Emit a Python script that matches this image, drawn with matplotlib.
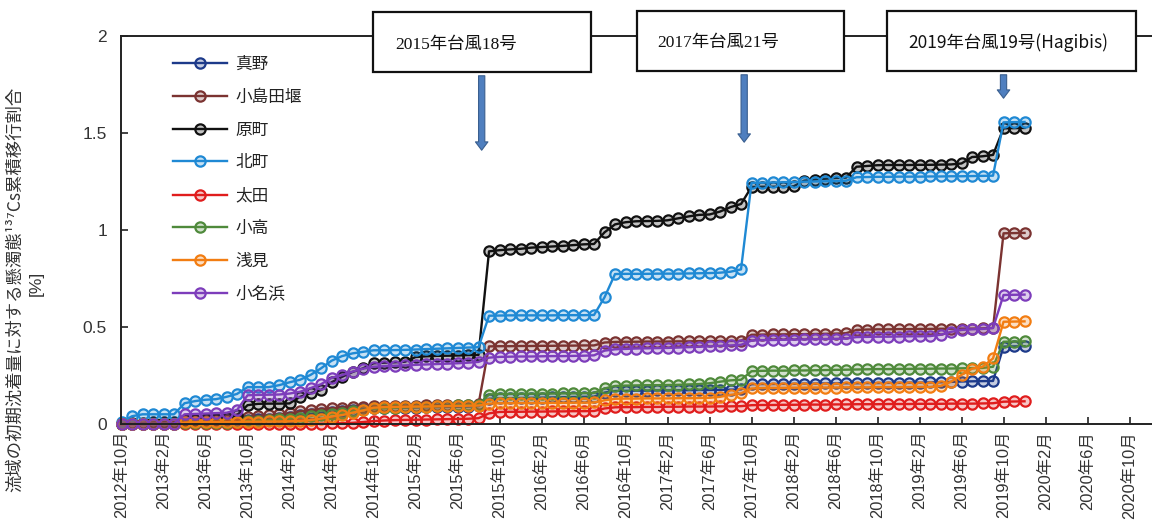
import numpy as np
import pandas as pd
import matplotlib
matplotlib.use("Agg")
import matplotlib.pyplot as plt
from matplotlib.patches import Rectangle, FancyArrowPatch
from matplotlib import transforms
from matplotlib.colors import to_rgba

plt.rcParams['font.family'] = ['Liberation Sans', 'Noto Sans CJK JP', 'DejaVu Sans']

# Monthly observations, Oct 2012 - Dec 2019
months = pd.period_range('2012-10', '2019-12', freq='M')

tick_labels = ['2012年10月', '2013年2月', '2013年6月', '2013年10月', '2014年2月', '2014年6月',
               '2014年10月', '2015年2月', '2015年6月', '2015年10月', '2016年2月', '2016年6月',
               '2016年10月', '2017年2月', '2017年6月', '2017年10月', '2018年2月', '2018年6月',
               '2018年10月', '2019年2月', '2019年6月', '2019年10月', '2020年2月', '2020年6月',
               '2020年10月']

# Cumulative transfer ratio of particulate 137Cs [%]
mano = [0.0, 0.0, 0.0, 0.0, 0.0, 0.0, 0.005, 0.006, 0.008, 0.01, 0.012, 0.015,
        0.02, 0.024, 0.028, 0.033, 0.038, 0.045, 0.052, 0.058, 0.063, 0.068, 0.072, 0.076,
        0.08, 0.082, 0.083, 0.084, 0.085, 0.086, 0.087, 0.088, 0.089, 0.09, 0.092, 0.13,
        0.132, 0.133, 0.134, 0.135, 0.136, 0.137, 0.138, 0.139, 0.14, 0.141, 0.162, 0.17,
        0.171, 0.172, 0.172, 0.173, 0.173, 0.174, 0.174, 0.175, 0.175, 0.176, 0.177, 0.178,
        0.205, 0.206, 0.206, 0.207, 0.207, 0.208, 0.208, 0.209, 0.209, 0.21, 0.21, 0.211,
        0.211, 0.212, 0.212, 0.213, 0.213, 0.214, 0.215, 0.217, 0.219, 0.22, 0.221, 0.222,
        0.399, 0.4, 0.401]

kojimadazeki = [0.0, 0.0, 0.0, 0.002, 0.003, 0.005, 0.01, 0.013, 0.016, 0.02, 0.022, 0.026,
                0.035, 0.04, 0.045, 0.05, 0.055, 0.065, 0.072, 0.078, 0.081, 0.085, 0.088, 0.09,
                0.091, 0.092, 0.093, 0.094, 0.095, 0.096, 0.097, 0.098, 0.099, 0.1, 0.102, 0.4,
                0.401, 0.401, 0.402, 0.402, 0.403, 0.403, 0.404, 0.404, 0.405, 0.405, 0.42, 0.423,
                0.424, 0.424, 0.425, 0.425, 0.425, 0.426, 0.426, 0.427, 0.427, 0.428, 0.428, 0.429,
                0.46, 0.461, 0.462, 0.462, 0.463, 0.463, 0.464, 0.465, 0.466, 0.468, 0.485, 0.487,
                0.488, 0.488, 0.489, 0.489, 0.49, 0.49, 0.491, 0.491, 0.492, 0.492, 0.493, 0.495,
                0.983, 0.984, 0.985]

haramachi = [0.0, 0.005, 0.005, 0.008, 0.01, 0.01, 0.02, 0.022, 0.025, 0.028, 0.03, 0.045,
             0.097, 0.104, 0.105, 0.105, 0.106, 0.14, 0.158, 0.175, 0.215, 0.243, 0.268, 0.287,
             0.313, 0.316, 0.318, 0.321, 0.345, 0.349, 0.351, 0.352, 0.353, 0.355, 0.356, 0.89,
             0.896, 0.9, 0.903, 0.909, 0.912, 0.915, 0.918, 0.922, 0.926, 0.928, 0.988, 1.029,
             1.04, 1.045, 1.046, 1.047, 1.05, 1.06, 1.07, 1.078, 1.08, 1.095, 1.118, 1.134,
             1.222, 1.223, 1.223, 1.224, 1.225, 1.254, 1.26, 1.264, 1.268, 1.27, 1.326, 1.33,
             1.334, 1.335, 1.335, 1.335, 1.336, 1.336, 1.337, 1.338, 1.343, 1.376, 1.38, 1.387,
             1.524, 1.525, 1.526]

kitamachi = [0.01, 0.04, 0.05, 0.05, 0.05, 0.05, 0.107, 0.118, 0.125, 0.128, 0.14, 0.155,
             0.19, 0.19, 0.19, 0.2, 0.215, 0.228, 0.253, 0.287, 0.326, 0.35, 0.364, 0.372,
             0.38, 0.38, 0.381, 0.382, 0.384, 0.386, 0.388, 0.39, 0.392, 0.394, 0.396, 0.558,
             0.559, 0.56, 0.56, 0.56, 0.56, 0.56, 0.561, 0.561, 0.561, 0.562, 0.653, 0.773,
             0.774, 0.774, 0.774, 0.775, 0.775, 0.775, 0.776, 0.777, 0.778, 0.78, 0.785, 0.797,
             1.243, 1.244, 1.245, 1.246, 1.247, 1.249, 1.25, 1.251, 1.252, 1.254, 1.272, 1.273,
             1.274, 1.274, 1.275, 1.275, 1.275, 1.276, 1.276, 1.277, 1.277, 1.278, 1.279, 1.28,
             1.555, 1.556, 1.557]

ota = [0.0, 0.0, 0.0, 0.0, 0.0, 0.0, 0.0, 0.0, 0.0, 0.0, 0.0, 0.0,
       0.0, 0.0, 0.0, 0.0, 0.0, 0.0, 0.001, 0.002, 0.003, 0.004, 0.006, 0.01,
       0.015, 0.018, 0.02, 0.021, 0.022, 0.023, 0.024, 0.025, 0.026, 0.027, 0.03, 0.055,
       0.062, 0.063, 0.063, 0.064, 0.064, 0.065, 0.065, 0.066, 0.066, 0.067, 0.08, 0.086,
       0.087, 0.087, 0.088, 0.088, 0.089, 0.089, 0.09, 0.09, 0.09, 0.091, 0.091, 0.092,
       0.097, 0.098, 0.098, 0.099, 0.099, 0.1, 0.1, 0.1, 0.101, 0.101, 0.102, 0.102,
       0.102, 0.103, 0.103, 0.103, 0.104, 0.104, 0.104, 0.105, 0.105, 0.105, 0.106, 0.107,
       0.115, 0.116, 0.117]

odaka = [0.0, 0.0, 0.0, 0.0, 0.0, 0.0, 0.003, 0.004, 0.005, 0.006, 0.007, 0.01,
         0.015, 0.018, 0.02, 0.024, 0.028, 0.033, 0.04, 0.045, 0.05, 0.058, 0.065, 0.072,
         0.08, 0.082, 0.084, 0.086, 0.088, 0.09, 0.092, 0.094, 0.096, 0.098, 0.1, 0.152,
         0.155, 0.155, 0.156, 0.156, 0.157, 0.157, 0.158, 0.158, 0.159, 0.16, 0.183, 0.196,
         0.198, 0.199, 0.2, 0.2, 0.201, 0.202, 0.204, 0.206, 0.21, 0.218, 0.225, 0.228,
         0.272, 0.274, 0.275, 0.275, 0.276, 0.276, 0.277, 0.278, 0.279, 0.28, 0.281, 0.282,
         0.283, 0.283, 0.284, 0.284, 0.285, 0.285, 0.286, 0.286, 0.287, 0.288, 0.289, 0.295,
         0.424, 0.425, 0.426]

asami = [0.0, 0.0, 0.0, 0.0, 0.0, 0.0, 0.008, 0.009, 0.01, 0.01, 0.01, 0.011,
         0.012, 0.012, 0.013, 0.013, 0.014, 0.016, 0.02, 0.028, 0.038, 0.046, 0.058, 0.07,
         0.084, 0.087, 0.088, 0.089, 0.09, 0.09, 0.091, 0.092, 0.093, 0.094, 0.095, 0.105,
         0.107, 0.107, 0.108, 0.108, 0.108, 0.109, 0.109, 0.11, 0.11, 0.111, 0.122, 0.13,
         0.131, 0.131, 0.132, 0.132, 0.132, 0.133, 0.133, 0.134, 0.135, 0.14, 0.15, 0.158,
         0.183, 0.185, 0.186, 0.186, 0.187, 0.187, 0.188, 0.188, 0.188, 0.189, 0.189, 0.189,
         0.19, 0.19, 0.19, 0.19, 0.191, 0.191, 0.196, 0.218, 0.253, 0.285, 0.295, 0.338,
         0.527, 0.528, 0.529]

onahama = [0.0, 0.0, 0.0, 0.0, 0.0, 0.002, 0.05, 0.052, 0.054, 0.056, 0.058, 0.072,
           0.148, 0.15, 0.151, 0.152, 0.157, 0.166, 0.185, 0.205, 0.238, 0.252, 0.27, 0.285,
           0.295, 0.298, 0.3, 0.302, 0.305, 0.307, 0.309, 0.311, 0.313, 0.316, 0.32, 0.342,
           0.346, 0.347, 0.348, 0.348, 0.349, 0.35, 0.35, 0.351, 0.352, 0.354, 0.378, 0.385,
           0.387, 0.389, 0.39, 0.391, 0.392, 0.394, 0.396, 0.398, 0.4, 0.403, 0.405, 0.408,
           0.43, 0.432, 0.433, 0.434, 0.435, 0.436, 0.437, 0.438, 0.439, 0.44, 0.448, 0.449,
           0.45, 0.45, 0.451, 0.452, 0.452, 0.453, 0.46, 0.475, 0.485, 0.488, 0.49, 0.495,
           0.665, 0.666, 0.667]

station_names = ['真野', '小島田堰', '原町', '北町', '太田', '小高', '浅見', '小名浜']
station_values = [mano, kojimadazeki, haramachi, kitamachi, ota, odaka, asami, onahama]
station_colors = ['#1d3a8a', '#7b3331', '#111111', '#1f89d4', '#e01d1d', '#4f8a3b', '#f27d12', '#7d3dbb']

# Typhoon events marked above the plot
event_labels = ['2015年台風18号', '2017年台風21号', '2019年台風19号(Hagibis)']

W, H = 1152, 526
fig = plt.figure(figsize=(W / 100, H / 100), dpi=100)
ax = fig.add_axes([121 / W, 1 - 424 / H, (W - 121) / W, (424 - 36) / H])

x = np.arange(len(months))
for name, vals, col in zip(station_names, station_values, station_colors):
    ax.plot(x, vals, color=col, lw=1.7, marker='o', ms=7.4, mew=1.6,
            mec=col, mfc=to_rgba(col, 0.25), label=name, clip_on=False)

ax.set_xlim(-0.05, (W - 121) / 10.5 - 0.05)
ax.set_ylim(0, 2)
ax.set_yticks([0, 0.5, 1, 1.5, 2])
ax.set_yticklabels(['0', '0.5', '1', '1.5', '2'])
ax.set_xticks(np.arange(0, 4 * len(tick_labels), 4))
ax.set_xticklabels(tick_labels, rotation=90)

ax.tick_params(axis='y', direction='in', length=5, width=1.2, pad=10,
               labelsize=12.5, colors='#222222', labelcolor='#333333')
ax.tick_params(axis='x', direction='in', length=5, width=1.2, pad=5,
               labelsize=11.8, colors='#222222', labelcolor='#333333')
for side in ['left', 'bottom', 'top']:
    ax.spines[side].set_color('#222222')
    ax.spines[side].set_linewidth(1.4)
ax.spines['right'].set_visible(False)

leg = ax.legend(loc='upper left', bbox_to_anchor=((173 - 121) / (W - 121), 1 - (57 - 36) / (424 - 36)),
                frameon=False, fontsize=12, handlelength=3.25, handletextpad=0.5,
                labelspacing=1.05, borderaxespad=0, borderpad=0)
for t in leg.get_texts():
    t.set_color('#222222')

# Axis title (two lines placed separately)
fig.text(15 / W, 1 - 289 / H, '流域の初期沈着量に対する懸濁態¹³⁷Cs累積移行割合',
         rotation=90, ha='center', va='center', fontsize=12.5, color='#333333',
         family=['Noto Sans CJK JP', 'DejaVu Sans'])
fig.text(36 / W, 1 - 283 / H, '[%]', rotation=90, ha='center', va='center',
         fontsize=12.5, color='#333333')

# Event boxes with arrows pointing at the typhoon months
boxes = [(373, 12, 591, 72, 395, 45), (637, 11, 844, 71, 657, 43), (887, 11, 1136, 71, 908, 43)]
arrow_x = [34.3, 59.3, 84.0]
arrow_tip = [153, 145, 101]
box_fonts = [['Liberation Serif', 'Noto Sans CJK JP'], ['Liberation Serif', 'Noto Sans CJK JP'],
             ['Noto Sans CJK JP', 'DejaVu Sans']]
blend = transforms.blended_transform_factory(ax.transData, fig.transFigure)
for (x0, y0, x1, y1, tx, ty), label, fam, ax_x, tip in zip(boxes, event_labels, box_fonts,
                                                         arrow_x, arrow_tip):
    fig.add_artist(Rectangle((x0 / W, 1 - y1 / H), (x1 - x0) / W, (y1 - y0) / H,
                             transform=fig.transFigure, facecolor='white',
                             edgecolor='#111111', lw=1.6, zorder=5))
    fig.text(tx / W, 1 - ty / H, label, ha='left', va='center', fontsize=12.5,
             color='#111111', family=fam, zorder=6)
    fig.add_artist(FancyArrowPatch((ax_x, 1 - (y1 + 1) / H), (ax_x, 1 - tip / H),
                                   transform=blend,
                                   arrowstyle='simple,head_length=6,head_width=9,tail_width=4.5',
                                   mutation_scale=1, facecolor='#4f7fbf', edgecolor='#3a5f8f',
                                   lw=0.8, zorder=4))

fig.savefig('out.png', dpi=100)
